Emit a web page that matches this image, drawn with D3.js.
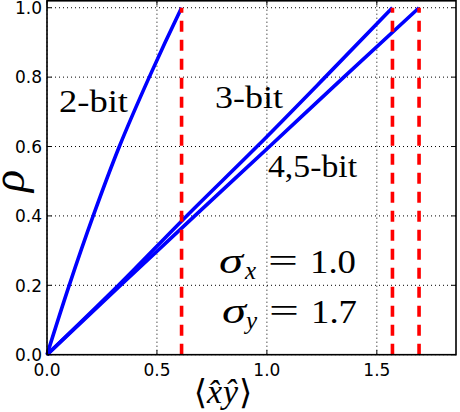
<!DOCTYPE html>
<html><head><meta charset="utf-8">
<script src="https://cdn.jsdelivr.net/npm/d3@7/dist/d3.min.js"></script>
<style>
html,body{margin:0;padding:0;background:#fff;}
svg{display:block;}
</style></head>
<body>
<svg id="chart" width="460" height="412"></svg>
<script>
// ---- data ----
const rhoLevels = [0, 0.2, 0.4, 0.6, 0.8, 0.9, 1.0];
const xy2bit = [0, 0.101, 0.21, 0.329, 0.465, 0.537, 0.612];
const rhoLevels3 = [0, 0.2, 0.4, 0.6, 0.8, 1.0];
const xy3bit = [0, 0.325, 0.635, 0.955, 1.265, 1.571];
const xy45bit = [0, 0.335, 0.672, 1.012, 1.35, 1.692];
const maxXY = [0.612, 1.571, 1.692];
const xTicks = [0, 0.5, 1.0, 1.5];
const yTicks = [0, 0.2, 0.4, 0.6, 0.8, 1.0];
const xDomain = [0, 1.86];
const yDomain = [0, 1.02];

const svg = d3.select("#chart");
const L = 47, R = 456, T = 0.8, B = 354.7;
const x = d3.scaleLinear().domain(xDomain).range([L, R]);
const y = d3.scaleLinear().domain(yDomain).range([B, T]);

// grid
const g = svg.append("g");
g.selectAll(".gx").data(xTicks).join("line")
  .attr("x1", d => x(d)).attr("x2", d => x(d)).attr("y1", B).attr("y2", T)
  .attr("stroke", "#000").attr("stroke-width", 1).attr("stroke-dasharray", "1,3");
g.selectAll(".gy").data(yTicks).join("line")
  .attr("y1", d => y(d)).attr("y2", d => y(d)).attr("x1", L).attr("x2", R)
  .attr("stroke", "#000").attr("stroke-width", 1).attr("stroke-dasharray", "1,3");

// series lines
const line = d3.line().x(d => x(d[0])).y(d => y(d[1])).curve(d3.curveMonotoneY);
const series = [
  xy2bit.map((v, i) => [v, rhoLevels[i]]),
  xy3bit.map((v, i) => [v, rhoLevels3[i]]),
  xy45bit.map((v, i) => [v, rhoLevels3[i]])
];
svg.selectAll(".s").data(series).join("path")
  .attr("d", line).attr("fill", "none").attr("stroke", "#0000ff")
  .attr("stroke-width", 3.6).attr("stroke-linejoin", "round");

// red dashed verticals
svg.selectAll(".v").data(maxXY).join("line")
  .attr("x1", d => x(d)).attr("x2", d => x(d)).attr("y1", y(0)).attr("y2", y(1))
  .attr("stroke", "#ff0000").attr("stroke-width", 3.6).attr("stroke-dasharray", "11,8");

// frame
svg.append("rect").attr("x", L).attr("y", T).attr("width", R - L).attr("height", B - T)
  .attr("fill", "none").attr("stroke", "#000").attr("stroke-width", 1.6);

// ticks (inward, all sides)
const tl = 4.5;
svg.append("g").selectAll("line").data(xTicks).join("line")
  .attr("x1", d => x(d)).attr("x2", d => x(d)).attr("y1", B).attr("y2", B - tl).attr("stroke", "#000");
svg.append("g").selectAll("line").data(xTicks).join("line")
  .attr("x1", d => x(d)).attr("x2", d => x(d)).attr("y1", T).attr("y2", T + tl).attr("stroke", "#000");
svg.append("g").selectAll("line").data(yTicks).join("line")
  .attr("y1", d => y(d)).attr("y2", d => y(d)).attr("x1", L).attr("x2", L + tl).attr("stroke", "#000");
svg.append("g").selectAll("line").data(yTicks).join("line")
  .attr("y1", d => y(d)).attr("y2", d => y(d)).attr("x1", R).attr("x2", R - tl).attr("stroke", "#000");

// tick labels
const tf = "'DejaVu Sans', sans-serif";
svg.append("g").selectAll("text").data(xTicks).join("text")
  .attr("x", d => x(d)).attr("y", 375.5).attr("text-anchor", "middle")
  .attr("font-family", tf).attr("font-size", 17).text(d => d3.format(".1f")(d));
svg.append("g").selectAll("text").data(yTicks).join("text")
  .attr("x", 42).attr("y", d => y(d) + 6.2).attr("text-anchor", "end")
  .attr("font-family", tf).attr("font-size", 17).text(d => d3.format(".1f")(d));

// annotations
const sf = "'Liberation Serif', 'DejaVu Serif', serif";
function lab(t, x0, x1, yb, fs) {
  svg.append("text").attr("x", x0).attr("y", yb).attr("font-family", sf).attr("font-size", fs)
    .attr("textLength", x1 - x0).attr("lengthAdjust", "spacingAndGlyphs").text(t);
}
lab("2-bit", 59, 128, 111.5, 32);
lab("3-bit", 215, 283, 108, 32);
lab("4,5-bit", 268, 357, 177, 32);

function sigma(sub, val, yb, xs, xsub, xeq, xv) {
  svg.append("text").attr("x", xs).attr("y", yb).attr("font-family", sf).attr("font-style", "italic")
    .attr("font-size", 36).attr("textLength", 24).attr("lengthAdjust", "spacingAndGlyphs").text("σ");
  svg.append("text").attr("x", xsub).attr("y", yb + 6).attr("font-family", sf).attr("font-style", "italic")
    .attr("font-size", 25).text(sub);
  svg.append("text").attr("x", xeq).attr("y", yb - 1).attr("font-family", sf)
    .attr("font-size", 34).attr("textLength", 30).attr("lengthAdjust", "spacingAndGlyphs").text("=");
  svg.append("text").attr("x", xv).attr("y", yb).attr("font-family", sf)
    .attr("font-size", 34).attr("textLength", 46).attr("lengthAdjust", "spacingAndGlyphs").text(val);
}
sigma("x", "1.0", 273, 219, 245, 268, 310);
sigma("y", "1.7", 323, 222, 246, 269, 311);

// y label rho
svg.append("text").attr("transform", "translate(24,181) rotate(-90)")
  .attr("text-anchor", "middle").attr("font-family", sf).attr("font-style", "italic")
  .attr("font-size", 46).text("ρ");

// x label <x^ y^>
svg.append("text").attr("x", 223).attr("y", 403).attr("text-anchor", "middle")
  .attr("font-family", sf).attr("font-size", 34)
  .html("<tspan font-family=\"'DejaVu Serif', serif\" dy='1'>⟨</tspan><tspan font-style='italic' dy='-1'>x̂</tspan><tspan font-style='italic' dx='1'>ŷ</tspan><tspan font-family=\"'DejaVu Serif', serif\" dy='1' dx='1'>⟩</tspan>");
</script>
</body></html>
